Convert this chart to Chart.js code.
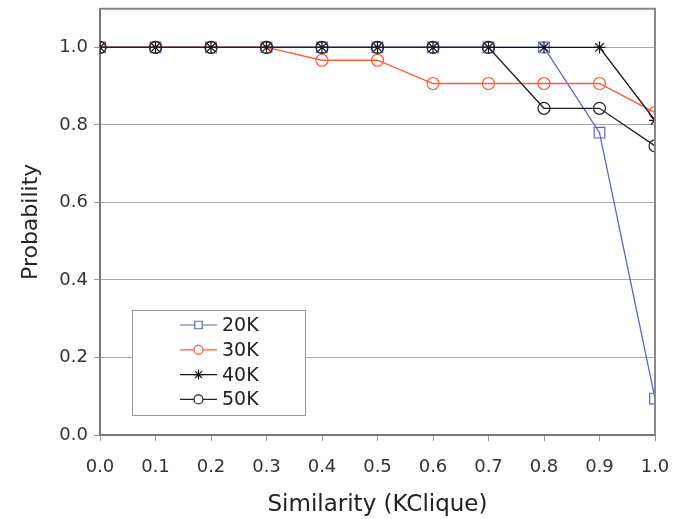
<!DOCTYPE html>
<html>
<head>
<meta charset="utf-8">
<script src="https://cdn.jsdelivr.net/npm/chart.js@4/dist/chart.umd.min.js"></script>
<style>
  html, body { margin: 0; padding: 0; background: #fff; }
  #wrap { width: 679px; height: 519px; }
</style>
</head>
<body>
<div id="wrap"><canvas id="probChart" width="679" height="519"></canvas></div>
<script>
// similarity thresholds on the x axis
const similarity = [0.0, 0.1, 0.2, 0.3, 0.4, 0.5, 0.6, 0.7, 0.8, 0.9, 1.0];
const yTicks = [0, 0.2, 0.4, 0.6, 0.8, 1.0];

// probability per graph size
const prob20K = [1, 1, 1, 1, 1, 1, 1, 1, 1, 0.78, 0.094];
const prob30K = [1, 1, 1, 1, 0.967, 0.967, 0.907, 0.907, 0.907, 0.907, 0.832];
const prob40K = [1, 1, 1, 1, 1, 1, 1, 1, 1, 1, 0.812];
const prob50K = [1, 1, 1, 1, 1, 1, 1, 1, 0.843, 0.843, 0.746];

const seriesNames = ['20K', '30K', '40K', '50K'];

const FONT = "'DejaVu Sans', Verdana, sans-serif";

function toPoints(vals) {
  return vals.map((v, i) => ({ x: similarity[i], y: v }));
}

/**
 * Draws the grey frame around the plot and the boxed legend inside it
 */
const frameAndLegend = {
  id: 'frameAndLegend',
  afterDatasetsDraw(chart) {
    const ctx = chart.ctx;
    const a = chart.chartArea;
    ctx.save();
    ctx.strokeStyle = '#888';
    ctx.lineWidth = 2;
    ctx.beginPath();
    ctx.moveTo(a.left, a.top);
    ctx.lineTo(a.right, a.top);
    ctx.lineTo(a.right, a.bottom);
    ctx.stroke();

    // legend box
    const bx = 132, by = 310, bw = 173, bh = 105;
    ctx.fillStyle = '#fff';
    ctx.fillRect(bx, by, bw, bh);
    ctx.strokeStyle = '#999';
    ctx.lineWidth = 1;
    ctx.strokeRect(bx + 0.5, by + 0.5, bw, bh);

    ctx.font = '19px ' + FONT;
    ctx.textBaseline = 'middle';
    const legendRadius = { rect: 5.3, circle: 4.5, star: 5 };
    chart.data.datasets.forEach((ds, i) => {
      const y = by + 15 + i * 24.8;
      const x0 = bx + 48, x1 = bx + 85, xm = (x0 + x1) / 2;
      ctx.strokeStyle = ds.borderColor;
      ctx.lineWidth = 1.2;
      ctx.beginPath();
      ctx.moveTo(x0, y);
      ctx.lineTo(x1, y);
      ctx.stroke();
      ctx.fillStyle = '#fff';
      Chart.helpers.drawPoint(ctx, {
        pointStyle: ds.pointStyle,
        radius: legendRadius[ds.pointStyle],
        borderWidth: 1.2
      }, xm, y);
      ctx.fillStyle = '#222';
      ctx.fillText(ds.label, bx + 90, y + 1);
    });
    ctx.restore();
  }
};

function createProbChart() {
  const ctx = document.getElementById('probChart').getContext('2d');
  const styles = [
    { color: '#5566c6', point: 'rect', radius: 7.5 },
    { color: '#ff5a36', point: 'circle', radius: 6 },
    { color: '#111', point: 'star', radius: 6 },
    { color: '#222', point: 'circle', radius: 6 }
  ];
  const allVals = [prob20K, prob30K, prob40K, prob50K];

  return new Chart(ctx, {
    type: 'line',
    data: {
      datasets: allVals.map((vals, i) => ({
        label: seriesNames[i],
        data: toPoints(vals),
        order: allVals.length - i,
        borderColor: styles[i].color,
        backgroundColor: '#fff',
        pointBackgroundColor: styles[i].point === 'star' ? styles[i].color : 'rgba(255,255,255,0)',
        pointBorderColor: styles[i].color,
        pointStyle: styles[i].point,
        pointRadius: styles[i].radius,
        pointBorderWidth: 1.2,
        borderWidth: 1.3,
        tension: 0
      }))
    },
    options: {
      responsive: false,
      animation: false,
      layout: { padding: { left: 0, top: 8, right: 24, bottom: 0 } },
      plugins: {
        legend: { display: false },
        tooltip: { enabled: false }
      },
      scales: {
        x: {
          type: 'linear',
          min: 0,
          max: 1,
          afterBuildTicks: (s) => { s.ticks = similarity.map(v => ({ value: v })); },
          afterFit: (s) => { s.height = 84; s.paddingLeft = 0; s.paddingRight = 0; },
          border: { color: '#777', width: 2 },
          grid: { display: true, drawOnChartArea: false, drawTicks: true, tickLength: 6, color: '#999' },
          ticks: {
            color: '#333',
            font: { family: FONT, size: 18 },
            padding: 16,
            maxRotation: 0,
            callback: (v) => Number(v).toFixed(1)
          },
          title: {
            display: true,
            text: 'Similarity (KClique)',
            color: '#222',
            font: { family: FONT, size: 23 },
            padding: { top: 0, bottom: 0 }
          }
        },
        y: {
          min: 0,
          max: 1.1,
          afterBuildTicks: (s) => { s.ticks = yTicks.map(v => ({ value: v })); },
          afterFit: (s) => { s.width = 100; s.paddingTop = 0; s.paddingBottom = 0; },
          border: { color: '#777', width: 2 },
          grid: { color: '#aaa', lineWidth: 1, drawTicks: true, tickLength: 6, tickColor: '#999' },
          ticks: {
            color: '#333',
            font: { family: FONT, size: 18 },
            padding: 6,
            callback: (v) => Number(v).toFixed(1)
          },
          title: {
            display: true,
            text: 'Probability',
            color: '#222',
            font: { family: FONT, size: 22 },
            padding: { top: 18, bottom: 0 }
          }
        }
      }
    },
    plugins: [frameAndLegend]
  });
}

createProbChart();
</script>
</body>
</html>
